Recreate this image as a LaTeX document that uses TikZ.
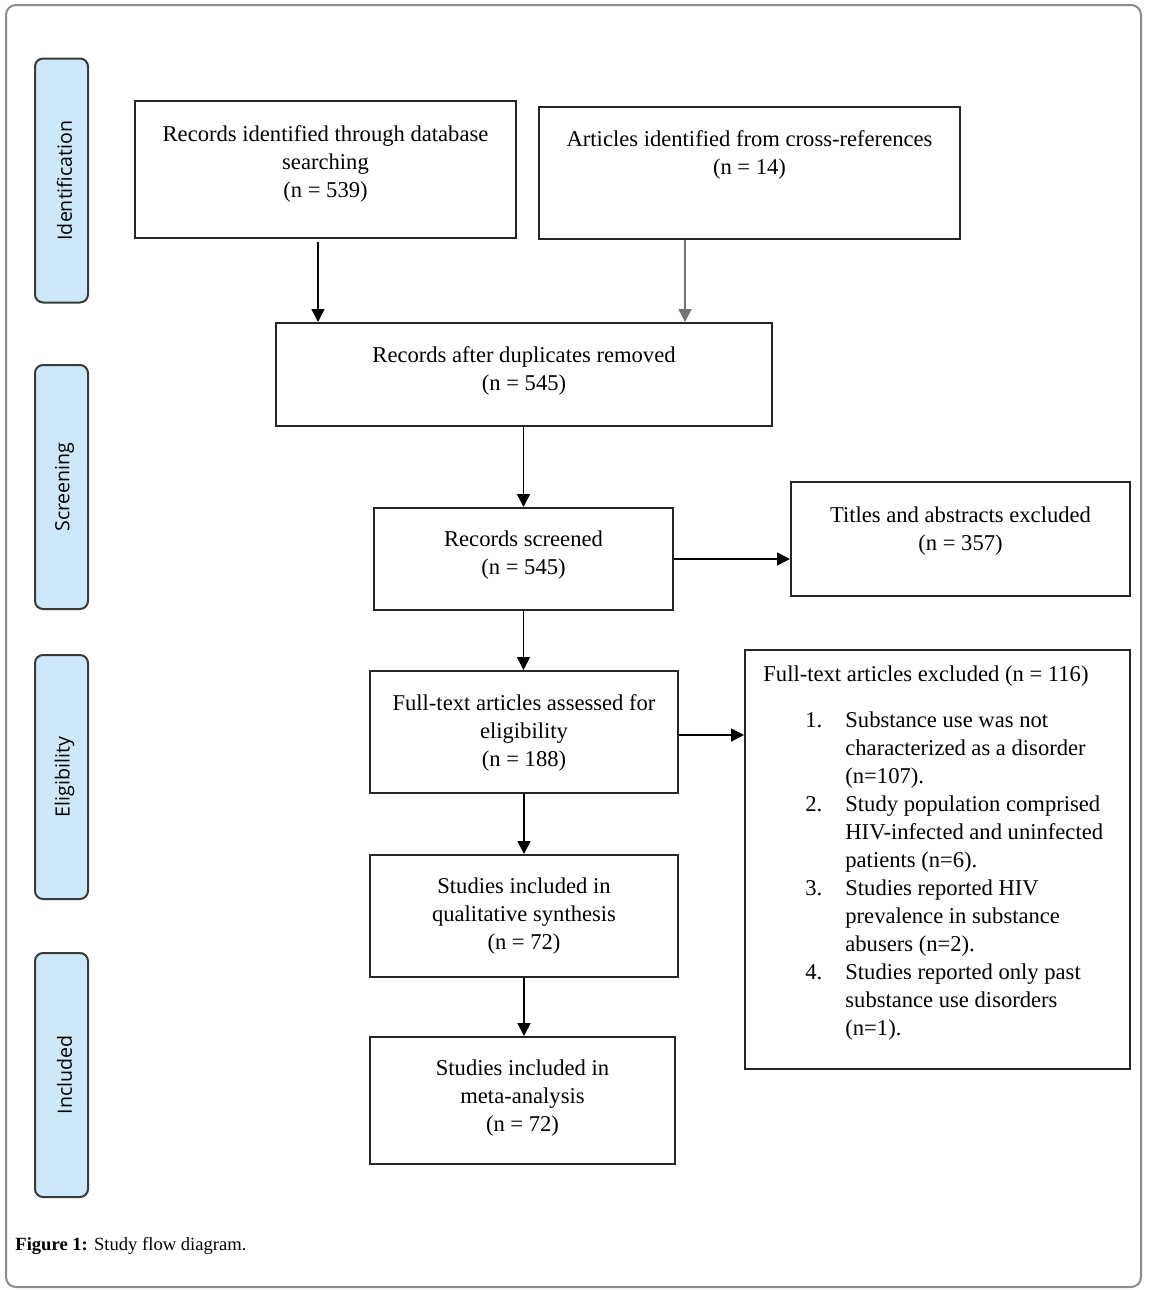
\documentclass[tikz,border=0pt]{standalone}
\usepackage{fontspec}
\setmainfont{Liberation Serif}
\newfontfamily\sidefont{Open Sans}
\usetikzlibrary{arrows.meta}
\definecolor{sidefill}{HTML}{CDE9F9}
\definecolor{sidedraw}{HTML}{3A3A3A}
\definecolor{framegray}{HTML}{8A8A8A}
\tikzset{
  box/.style={draw=black!85, line width=1pt, rectangle, inner sep=0pt},
  txt/.style={align=center, inner sep=0pt, font=\fontsize{11.3}{14}\selectfont},
  side/.style={draw=sidedraw, line width=1pt, fill=sidefill, rounded corners=4pt, inner sep=0pt,
     minimum width=26.5pt, minimum height=122pt},
  sidetxt/.style={rotate=90, inner sep=0pt, font=\sidefont\fontsize{9.8}{12}\selectfont},
  arr/.style={line width=0.75pt, -{Triangle[length=6.5pt,width=6.5pt]}},
}
\begin{document}
\begin{tikzpicture}[x=0.5pt,y=-0.5pt]
\useasboundingbox (0,0) rectangle (1148,1290);
\draw[framegray, line width=1pt, rounded corners=5pt] (6,5) rectangle (1141,1287);

% side labels
\node[side] (s1) at (61.5,180.5) {};
\node[sidetxt] (s1t) at ([xshift=1.5pt]s1.center) {Identification};
\node[side] (s2) at (61.5,487) {};
\node[sidetxt] (s2t) at ([xshift=1.5pt]s2.center) {Screening};
\node[side] (s3) at (61.5,777) {};
\node[sidetxt] (s3t) at ([xshift=1.5pt]s3.center) {Eligibility};
\node[side] (s4) at (61.5,1075) {};
\node[sidetxt] (s4t) at ([xshift=1.5pt]s4.center) {Included};

% boxes
\node[box, minimum width=190.5pt, minimum height=68.5pt] (A) at (325.5,169.5) {};
\node[txt] (At) at (325.5,163.5) {Records identified through database\\searching\\(n = 539)};
\node[box, minimum width=210.5pt, minimum height=66pt] (B) at (749.5,173) {};
\node[txt] (Bt) at (749.5,154.5) {Articles identified from cross-references\\(n = 14)};
\node[box, minimum width=248pt, minimum height=51.5pt] (C) at (524,374.5) {};
\node[txt] (Ct) at (524,370.5) {Records after duplicates removed\\(n = 545)};
\node[box, minimum width=149.5pt, minimum height=51pt] (D) at (523.5,559) {};
\node[txt] (Dt) at (523.5,555.5) {Records screened\\(n = 545)};
\node[box, minimum width=169.5pt, minimum height=57pt] (E) at (960.5,539) {};
\node[txt] (Et) at (960.5,531) {Titles and abstracts excluded\\(n = 357)};
\node[box, minimum width=154pt, minimum height=61pt] (F) at (524,732) {};
\node[txt] (Ft) at (524,732.5) {Full-text articles assessed for\\eligibility\\(n = 188)};
\node[box, minimum width=192.5pt, minimum height=209.5pt] (G) at (937.5,859.5) {};
\node[txt, align=left, anchor=north west] (Gt) at (763,665) {Full-text articles excluded (n = 116)\\[9pt]
\hspace*{21pt}\makebox[20pt][l]{1.}Substance use was not\\
\hspace*{41pt}characterized as a disorder\\
\hspace*{41pt}(n=107).\\
\hspace*{21pt}\makebox[20pt][l]{2.}Study population comprised\\
\hspace*{41pt}HIV-infected and uninfected\\
\hspace*{41pt}patients (n=6).\\
\hspace*{21pt}\makebox[20pt][l]{3.}Studies reported HIV\\
\hspace*{41pt}prevalence in substance\\
\hspace*{41pt}abusers (n=2).\\
\hspace*{21pt}\makebox[20pt][l]{4.}Studies reported only past\\
\hspace*{41pt}substance use disorders\\
\hspace*{41pt}(n=1).};
\node[box, minimum width=154pt, minimum height=61pt] (H) at (524,916) {};
\node[txt] (Ht) at (524,916.5) {Studies included in\\qualitative synthesis\\(n = 72)};
\node[box, minimum width=152.5pt, minimum height=63.5pt] (I) at (522.5,1100.5) {};
\node[txt] (It) at (522.5,1098.5) {Studies included in\\meta-analysis\\(n = 72)};

% caption
\node[anchor=west, inner sep=0pt, font=\fontsize{9.3}{11}\selectfont] (cap) at (15,1246) {\textbf{Figure 1:} Study flow diagram.};

% arrows
\coordinate (a1) at (318,242);
\draw[arr] (a1) -- (a1 |- C.north);
\draw[arr, draw=black!55] (B.south -| 685,0) -- (C.north -| 685,0);
\draw[arr] (C.south -| D.north) -- (D.north);
\draw[arr] (D.east |- 0,559) -- (E.west |- 0,559);
\draw[arr] (D.south) -- (F.north -| D.south);
\draw[arr] (F.east |- 0,735) -- (G.west |- 0,735);
\draw[arr] (F.south) -- (H.north);
\draw[arr] (H.south) -- (H.south |- I.north);
\end{tikzpicture}
\end{document}
